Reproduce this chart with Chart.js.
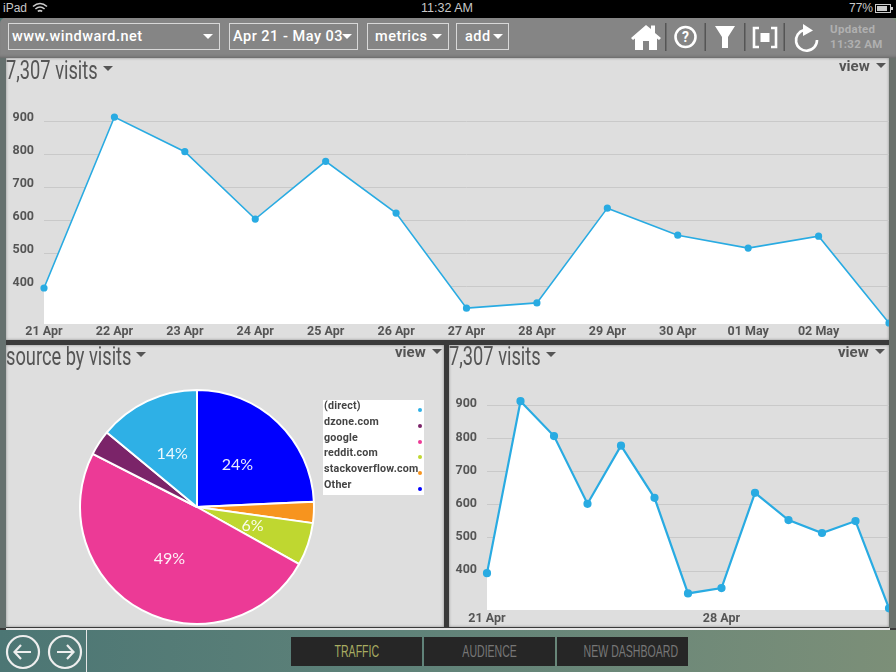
<!DOCTYPE html>
<html><head><meta charset="utf-8">
<script src="https://cdn.jsdelivr.net/npm/chart.js@4"></script>
<style>
html,body{margin:0;padding:0;background:#000;}
#app{position:relative;width:896px;height:672px;overflow:hidden;background:linear-gradient(90deg,#4c7674 0%,#5f8279 45%,#7c8f78 100%);font-family:Roboto,sans-serif;}
.abs{position:absolute;}
#status{left:0;top:0;width:896px;height:18px;background:#000;color:#c8c8c8;font:12px "Liberation Sans",sans-serif;line-height:17px;}
#toolbar{left:0;top:18px;width:896px;height:40px;background:#858585;border-radius:5px 5px 0 0;box-shadow:inset 0 -3px 3px -2px #666;}
.dd{position:absolute;top:23px;height:27px;box-sizing:border-box;border:1px solid #d8d8d8;color:#fff;font:500 14.5px/25px Roboto,sans-serif;letter-spacing:.5px;padding-left:3px;white-space:nowrap;}
.caret{position:absolute;width:0;height:0;border-left:5.5px solid transparent;border-right:5.5px solid transparent;border-top:5.5px solid #fff;}
.panel{position:absolute;background:#dedede;box-shadow:inset 0 0 3px #8a8a8a;overflow:hidden;}
.panel canvas{position:absolute;left:0;top:0;display:block;}
.title{position:absolute;left:0;font:25px Roboto,sans-serif;color:#555;white-space:nowrap;line-height:28px;transform:scaleX(.73);transform-origin:0 0;}
.view{position:absolute;font:bold 15px Roboto,sans-serif;color:#555;line-height:16px;}
.dark{border-top-color:#555;}
#legend{position:absolute;left:323px;top:400px;width:101px;height:95px;background:#fff;}
.lg{position:absolute;left:1px;font:bold 10.7px/12px Roboto,sans-serif;color:#444;white-space:nowrap;letter-spacing:.2px;}
.dot{position:absolute;left:95px;width:4px;height:4px;border-radius:2px;}
.tab{position:absolute;top:637px;height:29px;background:#262626;color:#777;font:16.5px/29px "Liberation Sans",sans-serif;text-align:center;white-space:nowrap;}
.tab span{display:inline-block;transform:scaleX(.64);}
</style></head><body>
<div id="app">
 <div class="abs" id="status">
  <span class="abs" style="left:3px;top:0">iPad</span>
  <svg class="abs" style="left:32px;top:2px" width="16" height="12" viewBox="0 0 16 12" fill="none" stroke="#ccc" stroke-width="1.6"><path d="M1 4.5Q8-1.500 15 4.500M3.400 7Q8 3 12.600 7M5.800 9.400Q8 7.800 10.200 9.400"/></svg>
  <span class="abs" style="left:421px;top:0;font-size:12.5px">11:32 AM</span>
  <span class="abs" style="left:849px;top:0">77%</span>
  <svg class="abs" style="left:875px;top:4px" width="19" height="10"><rect x=".5" y=".5" width="15" height="8" fill="none" stroke="#ccc"/><rect x="2" y="2" width="10" height="5" fill="#ccc"/><rect x="16" y="3" width="2" height="3" fill="#ccc"/></svg>
 </div>
 <div class="abs" id="toolbar"></div>
 <div class="dd" style="left:8px;width:212px">www.windward.net<i class="caret" style="left:194px;top:10px"></i></div>
 <div class="dd" style="left:229px;width:129px">Apr 21 - May 03<i class="caret" style="left:112px;top:10px"></i></div>
 <div class="dd" style="left:367px;width:82px;padding-left:7px">metrics<i class="caret" style="left:64px;top:10px"></i></div>
 <div class="dd" style="left:456px;width:53px;padding-left:8px">add<i class="caret" style="left:36px;top:10px"></i></div>
 <svg class="abs" style="left:628px;top:20px" width="205" height="34" fill="#fff">
  <path d="M3 18 18 5 23 9V5.500H27V13L33 18 31 20 29 18.500V30H21V21H15V30H7V18.500L5 20Z"/>
  <rect x="37" y="3" width="1.5" height="28" fill="#555"/>
  <circle cx="57.500" cy="17" r="10" fill="none" stroke="#fff" stroke-width="2.6"/>
  <text x="57.500" y="22" font-family="Roboto" font-weight="bold" font-size="14" text-anchor="middle">?</text>
  <rect x="76.500" y="3" width="1.5" height="28" fill="#555"/>
  <path d="M87 6H107L100 17V28H94V17Z"/>
  <rect x="116" y="3" width="1.5" height="28" fill="#555"/>
  <path d="M131 8H126V27H131M143 8H148V27H143" fill="none" stroke="#fff" stroke-width="2.6"/>
  <rect x="132.500" y="13" width="9" height="9"/>
  <rect x="155.500" y="3" width="1.5" height="28" fill="#555"/>
  <path d="M176 10A10.500 10.500 0 1 0 189 20" fill="none" stroke="#fff" stroke-width="2.6"/>
  <path d="M175 4 185 10.500 175 16Z"/>
 </svg>
 <div class="abs" style="left:830px;top:22px;font:bold 11.5px/15px Roboto,sans-serif;color:#b0b0b0;letter-spacing:.3px;text-align:left;white-space:nowrap">Updated<br>11:32 AM</div>

 <div class="abs" style="left:0;top:58px;width:896px;height:572px;background:#3a3a3a"></div>
 <div class="abs" style="left:0;top:58px;width:6px;height:570px;background:#66716f"></div>
 <div class="abs" style="left:889px;top:58px;width:7px;height:570px;background:#6a716c"></div>

 <div class="panel" style="left:6px;top:58px;width:883px;height:282px">
  <canvas id="mainChart" width="883" height="282"></canvas>
  <div class="title" style="top:-1px">7,307 visits</div><i class="caret dark" style="left:97px;top:8px"></i>
  <div class="view" style="left:833px;top:0">view</div><i class="caret dark" style="left:870px;top:5px"></i>
 </div>
 <div class="panel" style="left:6px;top:345px;width:438px;height:282px">
  <canvas id="pieChart" width="438" height="282"></canvas>
  <div class="title" style="top:-2px">source by visits</div><i class="caret dark" style="left:130px;top:7px"></i>
  <div class="view" style="left:389px;top:-1px">view</div><i class="caret dark" style="left:426px;top:4px"></i>
 </div>
 <div id="legend"></div>
 <div class="panel" style="left:449px;top:345px;width:440px;height:282px">
  <canvas id="sideChart" width="440" height="282"></canvas>
  <div class="title" style="top:-2px">7,307 visits</div><i class="caret dark" style="left:97px;top:7px"></i>
  <div class="view" style="left:389px;top:-1px">view</div><i class="caret dark" style="left:426px;top:4px"></i>
 </div>

 <div class="abs" style="left:6px;top:628px;width:884px;height:2px;background:#e6e6e6"></div>
 <div class="abs" style="left:86px;top:630px;width:1px;height:42px;background:#e6e6e6"></div>
 <svg class="abs" style="left:0;top:630px" width="86" height="42" fill="none" stroke="#eee" stroke-width="2.2">
  <circle cx="23" cy="22" r="16"/><path d="M31 22H15M21 15 14.500 22 21 29"/>
  <circle cx="65" cy="22" r="16"/><path d="M57 22H73M67 15 73.500 22 67 29"/>
 </svg>
 <div class="tab" style="left:291px;width:131px;color:#a9ad62"><span>TRAFFIC</span></div>
 <div class="tab" style="left:424px;width:131px"><span>AUDIENCE</span></div>
 <div class="tab" style="left:557px;width:131px"><span>NEW DASHBOARD</span></div>
</div>
<script>
const days = ['21 Apr','22 Apr','23 Apr','24 Apr','25 Apr','26 Apr','27 Apr','28 Apr','29 Apr','30 Apr','01 May','02 May','03 May'];
const visits = [394,912,807,603,778,621,333,349,636,554,515,551,288];
const mainTickLabels = ['21 Apr','22 Apr','23 Apr','24 Apr','25 Apr','26 Apr','27 Apr','28 Apr','29 Apr','30 Apr','01 May','02 May'];
const sideTickLabels = ['21 Apr','28 Apr'];
const yTicks = [400,500,600,700,800,900];
const legendSources = ['(direct)','dzone.com','google','reddit.com','stackoverflow.com','Other'];
const legendColors = ['#2eb0e6','#7b2469','#ec3a96','#bfd730','#f7941e','#0000ff'];
const sources = ['Other','stackoverflow.com','reddit.com','google','dzone.com','(direct)'];
const shares = [24.3,2.9,5.9,49.4,3.5,14.0];
const shareLabels = ['24%','','6%','49%','','14%'];
const sourceColors = ['#0000ff','#f7941e','#bfd730','#ec3a96','#7b2469','#2eb0e6'];

Chart.defaults.animation = false;
Chart.defaults.responsive = false;
Chart.defaults.devicePixelRatio = 1;

function lineChart(id, tickLabels, lineW, pointR, axisW, top, yMin, yMax, xAxisH, xPad, yOffset) {
  return new Chart(document.getElementById(id), {
    type: 'line',
    data: { labels: days, datasets: [{ data: visits, borderColor: '#29abe2', backgroundColor: '#ffffff',
      borderWidth: lineW, pointRadius: pointR, pointBackgroundColor: '#29abe2', pointBorderColor: '#29abe2',
      tension: 0, fill: 'start', clip: false }] },
    options: {
      layout: { autoPadding: false, padding: { top: top, left: 0, right: 0, bottom: 0 } },
      plugins: { legend: { display: false }, tooltip: { enabled: false }, title: { display: false } },
      scales: {
        x: { grid: { display: false, drawTicks: false }, border: { display: false },
          afterFit(s) { s.height = xAxisH; s.paddingLeft = 0; s.paddingRight = 0; },
          ticks: { autoSkip: false, maxRotation: 0, minRotation: 0, padding: xPad, color: '#555',
            font: { family: 'Roboto', weight: 'bold', size: 12.5 },
            callback(v) { const l = this.getLabelForValue(v); return tickLabels.includes(l) ? l : ''; } } },
        y: { min: yMin, max: yMax, border: { display: false }, grid: { color: '#c9c9c9', lineWidth: 1, drawTicks: false },
          afterFit(s) { s.width = axisW; s.paddingTop = 0; s.paddingBottom = 0; },
          afterBuildTicks(s) { s.ticks = yTicks.map(v => ({ value: v })); },
          ticks: { padding: 10, labelOffset: yOffset, color: '#555', font: { family: 'Roboto', weight: 'bold', size: 12.5 } } }
      }
    }
  });
}
lineChart('mainChart', mainTickLabels, 1.6, 2.8, 38, 30, 285, 1000, 16, 0, -3);
lineChart('sideChart', sideTickLabels, 2.2, 3, 38, 27, 283, 1000, 17, 1, -1);

const sliceLabels = { id: 'sliceLabels', afterDatasetsDraw(c) {
  const ctx = c.ctx; ctx.save();
  ctx.font = '16px Lato, sans-serif'; ctx.fillStyle = 'rgba(255,255,255,.92)';
  ctx.textAlign = 'center'; ctx.textBaseline = 'middle';
  c.getDatasetMeta(0).data.forEach((arc, i) => {
    if (!shareLabels[i]) return;
    const p = arc.getCenterPoint(); ctx.fillText(shareLabels[i], p.x, p.y);
  });
  ctx.restore();
}};
new Chart(document.getElementById('pieChart'), {
  type: 'pie',
  data: { labels: sources, datasets: [{ data: shares, backgroundColor: sourceColors, borderColor: '#ffffff', borderWidth: 2 }] },
  options: {
    layout: { padding: { left: 73, right: 129, top: 44, bottom: 2 } },
    plugins: { legend: { display: false }, tooltip: { enabled: false } }
  },
  plugins: [sliceLabels]
});

const lg = document.getElementById('legend');
const rowY = [0,16,32,47,63,79];
legendSources.forEach((s, i) => {
  const t = document.createElement('div'); t.className = 'lg'; t.textContent = s; t.style.top = rowY[i] + 'px'; lg.appendChild(t);
  const d = document.createElement('div'); d.className = 'dot'; d.style.background = legendColors[i]; d.style.top = (rowY[i] + 8) + 'px'; lg.appendChild(d);
});
</script>
</body></html>
